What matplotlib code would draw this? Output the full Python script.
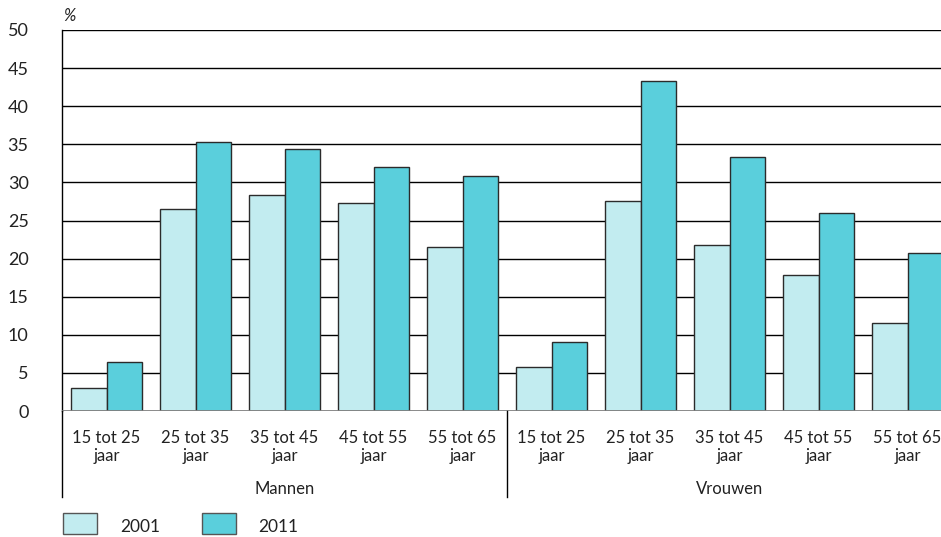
import matplotlib
matplotlib.use("Agg")
import matplotlib.pyplot as plt
from matplotlib.patches import Rectangle
from matplotlib.lines import Line2D
import numpy as np

plt.rcParams['font.family'] = ['Lato', 'DejaVu Sans']

categories = ["15 tot 25\njaar", "25 tot 35\njaar", "35 tot 45\njaar", "45 tot 55\njaar", "55 tot 65\njaar",
              "15 tot 25\njaar", "25 tot 35\njaar", "35 tot 45\njaar", "45 tot 55\njaar", "55 tot 65\njaar"]
groups = ["Mannen", "Vrouwen"]
series_names = ["2001", "2011"]
v2001 = [3.0, 26.5, 28.3, 27.3, 21.5, 5.8, 27.6, 21.75, 17.9, 11.6]
v2011 = [6.4, 35.3, 34.4, 32.0, 30.8, 9.0, 43.3, 33.3, 26.0, 20.7]
yticks = [0, 5, 10, 15, 20, 25, 30, 35, 40, 45, 50]

c2001 = "#C2ECF0"
c2011 = "#5ACFDC"
edge = "#2b2b2b"

W, H = 941, 537
fig = plt.figure(figsize=(W/100, H/100), dpi=100)
ax = fig.add_axes([62/W, (H-411)/H, 890/W, 381/H])

x = np.arange(len(categories))
bw = 0.4
ax.bar(x - bw/2, v2001, width=bw, color=c2001, edgecolor=edge, linewidth=1.0, zorder=3)
ax.bar(x + bw/2, v2011, width=bw, color=c2011, edgecolor=edge, linewidth=1.0, zorder=3)

ax.set_xlim(-0.5, len(categories) - 0.5)
ax.set_ylim(0, 50)
ax.set_yticks(yticks)
for t in yticks[1:]:
    ax.axhline(t, color="black", linewidth=1.0, zorder=1)
ax.axhline(0, color="#808080", linewidth=2.0, zorder=4)

for s in ["top", "right", "bottom"]:
    ax.spines[s].set_visible(False)
ax.spines["left"].set_linewidth(1.0)
ax.spines["left"].set_color("black")

ax.tick_params(axis="y", length=0, pad=24, labelsize=13, labelcolor="#222222")
ax.set_yticklabels([str(t) for t in yticks])
ax.set_xticks(x)
ax.set_xticklabels(categories, fontsize=12, linespacing=1.1, color="#222222")
ax.tick_params(axis="x", length=0, pad=14)

# group separators
for gx in [-0.5, 4.5]:
    ax.add_line(Line2D([gx, gx], [0, -86/381*50], color="black", linewidth=1.0,
                       clip_on=False, zorder=5))
ax.text(2.0, -78/381*50, groups[0], ha="center", va="center", fontsize=12, color="#222222", clip_on=False)
ax.text(7.0, -78/381*50, groups[1], ha="center", va="center", fontsize=12, color="#222222", clip_on=False)

# % label
fig.text(63/W, 1 - 16/H, "%", fontsize=12, style="italic", ha="left", va="center", color="#222222")

# legend
for bx, col, lab, tx in [(63, c2001, series_names[0], 120), (202, c2011, series_names[1], 258)]:
    fig.patches.append(Rectangle((bx/W, (H-534)/H), 34/W, 21/H, transform=fig.transFigure,
                                 facecolor=col, edgecolor="#555555", linewidth=1.0))
    fig.text(tx/W, 1 - 527/H, lab, fontsize=12.5, ha="left", va="center", color="#222222")

fig.savefig("out.png", dpi=100)
